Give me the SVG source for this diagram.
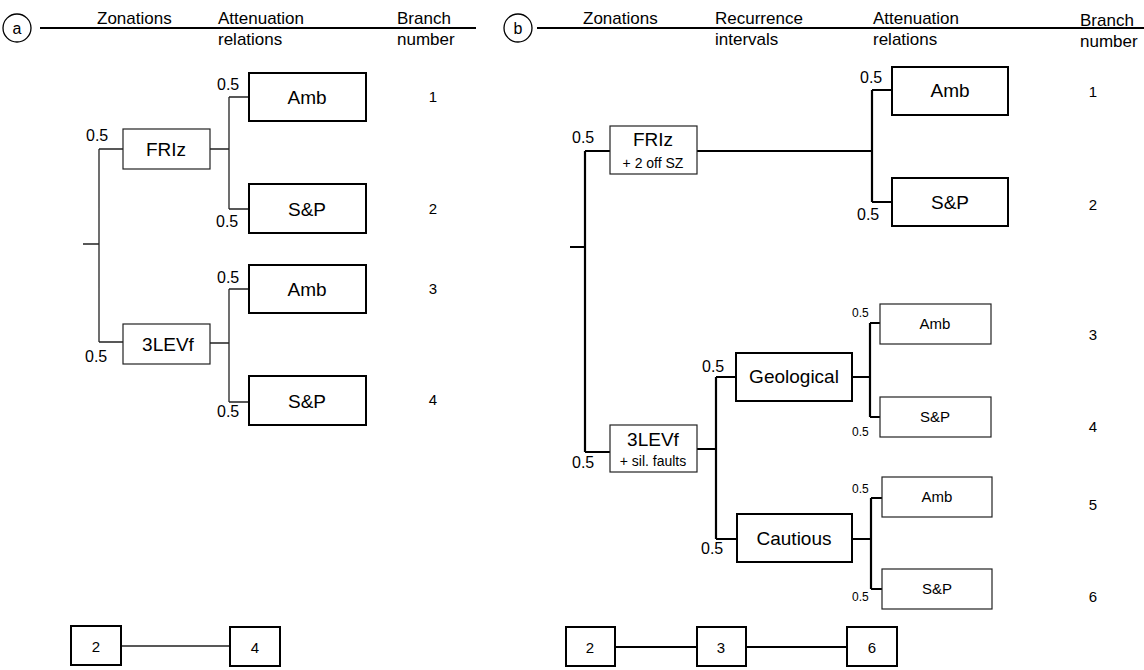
<svg xmlns="http://www.w3.org/2000/svg" width="1144" height="670" viewBox="0 0 1144 670">
<style>
text{font-family:"Liberation Sans",Arial,sans-serif;fill:#000}
.h{font-size:17px}
.lbl{font-size:19px;text-anchor:middle}
.sub{font-size:14px;text-anchor:middle}
.p{font-size:16px}
.ps{font-size:12px}
.num{font-size:15px;text-anchor:middle}
.bt{fill:#fff;stroke:#000;stroke-width:2}
.bn{fill:#fff;stroke:#222;stroke-width:1.2}
.ca{fill:none;stroke:#222;stroke-width:1.3}
.cb{fill:none;stroke:#000;stroke-width:2.2}
</style>
<g id="headers">
<circle cx="17" cy="28" r="14" fill="none" stroke="#000" stroke-width="1.3"/>
<text x="17" y="34" class="p" text-anchor="middle">a</text>
<line x1="40" y1="28" x2="476" y2="28" stroke="#000" stroke-width="2"/>
<text x="97" y="24" class="h">Zonations</text>
<text x="218" y="24" class="h">Attenuation</text>
<text x="218" y="45" class="h">relations</text>
<text x="397" y="24" class="h">Branch</text>
<text x="397" y="45" class="h">number</text>
<circle cx="518" cy="28" r="14" fill="none" stroke="#000" stroke-width="1.3"/>
<text x="518" y="34" class="p" text-anchor="middle">b</text>
<line x1="537" y1="28" x2="1144" y2="28" stroke="#000" stroke-width="2"/>
<text x="583" y="24" class="h">Zonations</text>
<text x="715" y="24" class="h">Recurrence</text>
<text x="715" y="45" class="h">intervals</text>
<text x="873" y="24" class="h">Attenuation</text>
<text x="873" y="45" class="h">relations</text>
<text x="1080" y="26" class="h">Branch</text>
<text x="1080" y="47" class="h">number</text>
</g>
<g id="connectors">
<path class="ca" d="M83 244H99M99 149V342M99 149H123M99 342H123M210 149H229M229 97V209M229 97H249M229 209H249M210 343H229M229 289V402M229 289H249M229 402H249M121 646H230"/>
<path class="cb" d="M570 247H585M585 151V452M585 151H610M585 452H610M697 151H872M872 90V202M872 90H892M872 202H892M697 449H716M716 377V539M716 377H736M716 539H737M852 377H870M870 323V417M870 323H880M870 417H880M852 539H871M871 498V589M871 498H882M871 589H882M615 647H697M746 647H847"/>
</g>
<g id="a-labels">
<text x="86" y="141" class="p">0.5</text>
<text x="85" y="362" class="p">0.5</text>
<text x="217" y="90" class="p">0.5</text>
<text x="216" y="227" class="p">0.5</text>
<text x="217" y="283" class="p">0.5</text>
<text x="217" y="417" class="p">0.5</text>
</g>
<g id="b-labels">
<text x="572" y="143" class="p">0.5</text>
<text x="572" y="468" class="p">0.5</text>
<text x="860" y="83" class="p">0.5</text>
<text x="857" y="220" class="p">0.5</text>
<text x="702" y="372" class="p">0.5</text>
<text x="701" y="554" class="p">0.5</text>
<text x="852" y="317" class="ps">0.5</text>
<text x="852" y="436" class="ps">0.5</text>
<text x="852" y="493" class="ps">0.5</text>
<text x="852" y="601" class="ps">0.5</text>
</g>
<g id="a-FRIz"><rect class="bn" x="123" y="129" width="87" height="40"/><text x="166" y="156" class="lbl">FRIz</text></g>
<g id="a-3LEVf"><rect class="bn" x="123" y="324" width="87" height="40"/><text x="168" y="351" class="lbl">3LEVf</text></g>
<g id="a-Amb1"><rect class="bt" x="249" y="73" width="117" height="48"/><text x="307" y="104" class="lbl">Amb</text></g>
<g id="a-SP1"><rect class="bt" x="249" y="184" width="117" height="49"/><text x="307" y="216" class="lbl">S&amp;P</text></g>
<g id="a-Amb2"><rect class="bt" x="249" y="265" width="117" height="48"/><text x="307" y="296" class="lbl">Amb</text></g>
<g id="a-SP2"><rect class="bt" x="249" y="376" width="117" height="49"/><text x="307" y="408" class="lbl">S&amp;P</text></g>
<g id="a-branches">
<text x="433" y="102" class="num">1</text>
<text x="433" y="214" class="num">2</text>
<text x="433" y="294" class="num">3</text>
<text x="433" y="405" class="num">4</text>
</g>
<g id="a-sum2"><rect class="bt" x="71" y="626" width="50" height="39"/><text x="96" y="652" class="num">2</text></g>
<g id="a-sum4"><rect class="bt" x="230" y="627" width="50" height="39"/><text x="255" y="653" class="num">4</text></g>
<g id="b-FRIz"><rect class="bn" x="610" y="126" width="87" height="48"/><text x="653" y="146" class="lbl">FRIz</text><text x="653" y="168" class="sub">+ 2 off SZ</text></g>
<g id="b-3LEVf"><rect class="bn" x="610" y="425" width="87" height="47"/><text x="653" y="446" class="lbl">3LEVf</text><text x="653" y="466" class="sub">+ sil. faults</text></g>
<g id="b-Amb1"><rect class="bt" x="892" y="67" width="116" height="48"/><text x="950" y="97" class="lbl">Amb</text></g>
<g id="b-SP1"><rect class="bt" x="892" y="178" width="116" height="48"/><text x="950" y="209" class="lbl">S&amp;P</text></g>
<g id="b-Geological"><rect class="bt" x="736" y="353" width="116" height="48"/><text x="794" y="383" class="lbl">Geological</text></g>
<g id="b-Cautious"><rect class="bt" x="737" y="514" width="115" height="48"/><text x="794" y="545" class="lbl">Cautious</text></g>
<g id="b-Amb2"><rect class="bn" x="880" y="304" width="111" height="40"/><text x="935" y="329" class="num">Amb</text></g>
<g id="b-SP2"><rect class="bn" x="880" y="397" width="111" height="40"/><text x="935" y="422" class="num">S&amp;P</text></g>
<g id="b-Amb3"><rect class="bn" x="882" y="477" width="110" height="40"/><text x="937" y="502" class="num">Amb</text></g>
<g id="b-SP3"><rect class="bn" x="882" y="569" width="110" height="40"/><text x="937" y="594" class="num">S&amp;P</text></g>
<g id="b-branches">
<text x="1093" y="97" class="num">1</text>
<text x="1093" y="210" class="num">2</text>
<text x="1093" y="340" class="num">3</text>
<text x="1093" y="432" class="num">4</text>
<text x="1093" y="510" class="num">5</text>
<text x="1093" y="602" class="num">6</text>
</g>
<g id="b-sum2"><rect class="bt" x="566" y="627" width="49" height="39"/><text x="590" y="653" class="num">2</text></g>
<g id="b-sum3"><rect class="bt" x="697" y="627" width="49" height="39"/><text x="721" y="653" class="num">3</text></g>
<g id="b-sum6"><rect class="bt" x="847" y="627" width="50" height="39"/><text x="872" y="653" class="num">6</text></g>
</svg>
